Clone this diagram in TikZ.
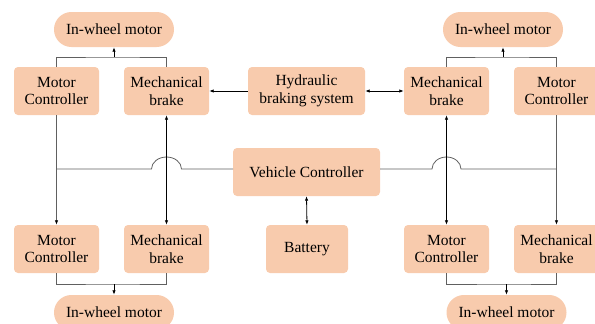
\documentclass[tikz,border=0pt]{standalone}
\usepackage{fontspec}
\setmainfont{Liberation Serif}
\usetikzlibrary{arrows.meta}
\definecolor{peach}{HTML}{F8CBAD}
\definecolor{lgray}{HTML}{606060}
\tikzset{
  box/.style={fill=peach, draw=none, rounded corners=4pt, minimum width=85pt, minimum height=48pt, inner sep=0pt, align=center, font=\fontsize{15.5}{17.5}\selectfont},
  pill/.style={box, minimum width=120pt, minimum height=35pt, rounded corners=17.4pt},
  gline/.style={draw=lgray, line width=0.8pt},
  bline/.style={draw=black, line width=0.8pt},
  tip/.style={-{Latex[length=4.5pt,width=3.5pt,color=black]}},
  tips/.style={{Latex[length=4.5pt,width=3.5pt,color=black]}-{Latex[length=4.5pt,width=3.5pt,color=black]}}
}
\begin{document}
\begin{tikzpicture}[x=1pt,y=-1pt]
\useasboundingbox (0,0) rectangle (595,324);
% top row
\node[pill] (iwTL) at (114,29.5) {In-wheel motor};
\node[pill] (iwTR) at (503,29.5) {In-wheel motor};
\node[box] (mcTL) at (56.5,91) {Motor\\Controller};
\node[box] (mbTL) at (166.5,91) {Mechanical\\brake};
\node[box, minimum width=117pt] (hyd) at (306.5,91) {Hydraulic\\braking system};
\node[box] (mbTR) at (446.5,91) {Mechanical\\brake};
\node[box] (mcTR) at (556.5,91) {Motor\\Controller};
% middle
\node[box, minimum width=147pt] (vc) at (306.5,172) {Vehicle Controller};
% bottom row
\node[box] (mcBL) at (56.5,249) {Motor\\Controller};
\node[box] (mbBL) at (166.5,249) {Mechanical\\brake};
\node[box, minimum width=82pt] (bat) at (307,249) {Battery};
\node[box] (mcBR) at (446.5,249) {Motor\\Controller};
\node[box] (mbBR) at (556.5,249) {Mechanical\\brake};
\node[pill] (iwBL) at (114,312.5) {In-wheel motor};
\node[pill] (iwBR) at (506.5,312.5) {In-wheel motor};
% coordinates
\coordinate (tl) at (114,57);
\coordinate (tr) at (503,57);
\coordinate (bl) at (114,284);
\coordinate (br) at (506.5,284);
\coordinate (vcl) at (233,169);
\coordinate (vcr) at (380,169);
\coordinate (jl) at (181.5,169);
\coordinate (jr) at (432,169);
% top brackets
\draw[gline] (mcTL.north) |- (tl) -| (mbTL.north);
\draw[bline,tip] (tl) -- (iwTL.south);
\draw[gline] (mbTR.north) |- (tr) -| (mcTR.north);
\draw[bline,tip] (tr) -- (iwTR.south);
% bottom brackets
\draw[gline] (mcBL.south) |- (bl) -| (mbBL.south);
\draw[bline,tip] (bl) -- (iwBL.north);
\draw[gline] (mcBR.south) |- (br) -| (mbBR.south);
\draw[bline,tip] (br) -- (iwBR.north);
% hydraulic
\draw[bline,tip] (hyd.west) -- (mbTL.east);
\draw[bline,tips] (hyd.east) -- (mbTR.west);
% vehicle controller network
\draw[gline] (vcl) -- (jl) arc[start angle=0, end angle=180, x radius=15pt, y radius=12pt] -- (mcTL.south |- vcl);
\draw[gline] (vcr) -- (jr) arc[start angle=180, end angle=0, x radius=14.5pt, y radius=12pt] -- (mcTR.south |- vcr);
\draw[gline,tip] (mcTL.south) -- (mcBL.north);
\draw[gline,tip] (mcTR.south) -- (mbBR.north);
\draw[bline,tips] (mbTL.south) -- (mbBL.north);
\draw[bline,tips] (mbTR.south) -- (mcBR.north);
\draw[bline,tips] (vc.south) -- (bat.north);
\end{tikzpicture}
\end{document}
